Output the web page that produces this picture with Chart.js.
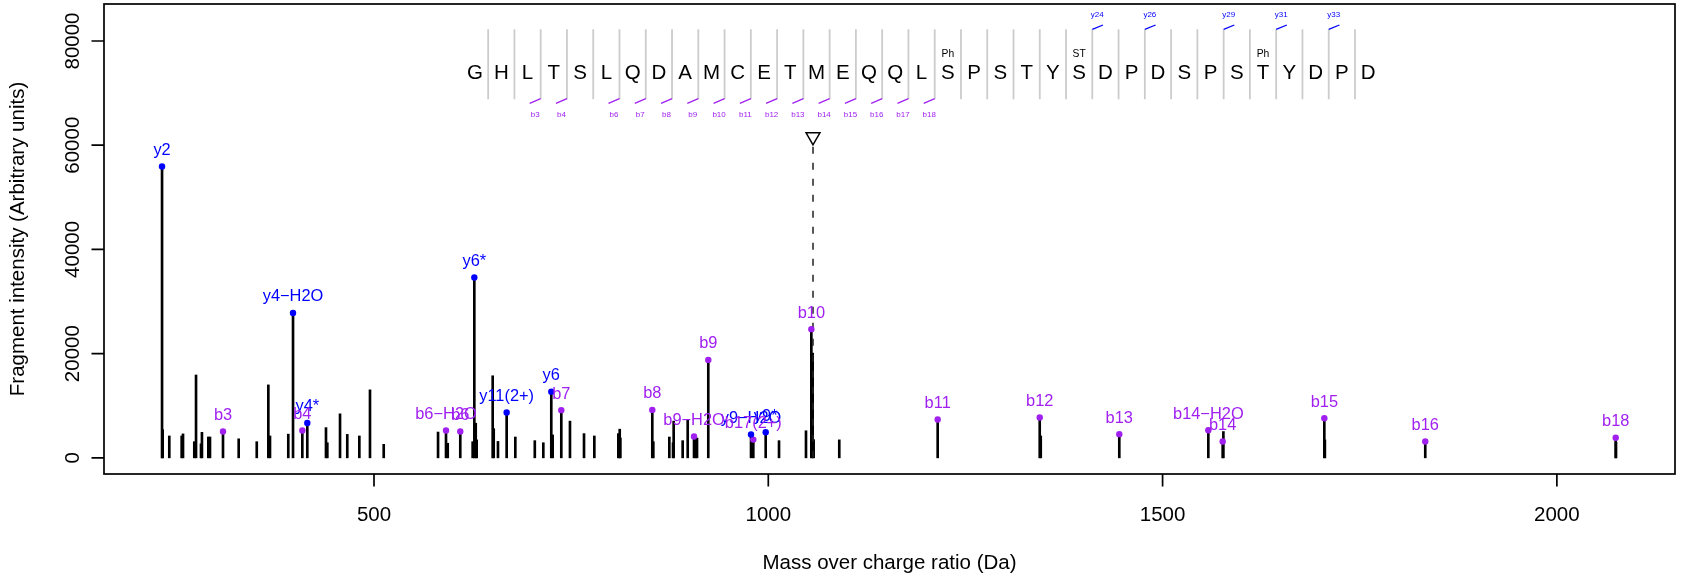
<!DOCTYPE html>
<html>
<head>
<meta charset="utf-8">
<script src="https://cdn.jsdelivr.net/npm/chart.js@4.4.0/dist/chart.umd.min.js"></script>
<style>
  html, body { margin: 0; padding: 0; background: #fff; }
  #wrap { width: 1685px; height: 582px; position: relative; }
</style>
</head>
<body>
<div id="wrap"><canvas id="spectrum"></canvas></div>
<script>
// every observed fragment peak (black sticks)
const peakMz = [231.2, 232.0, 240.4, 256.1, 257.8, 272.1, 274.3, 280.6, 281.8, 289.9, 292.0,
  308.5, 328.4, 351.3, 366.0, 368.1, 391.3, 397.3, 409.1, 415.4, 439.1, 440.8, 456.9, 466.1,
  481.4, 494.9, 512.3, 581.2, 591.3, 593.5, 609.4, 625.1, 627.2, 629.0, 630.2, 650.5, 651.8,
  657.2, 668.2, 679.2, 703.9, 714.7, 724.8, 726.6, 737.5, 748.5, 766.3, 779.4, 809.8, 811.6,
  812.4, 852.9, 854.2, 874.5, 879.2, 880.0, 891.4, 897.8, 905.8, 907.9, 909.6, 923.9, 978.1,
  981.0, 996.7, 1013.6, 1047.8, 1054.6, 1056.3, 1057.5, 1090.0, 1214.8, 1344.2, 1345.5,
  1445.1, 1558.0, 1576.2, 1577.1, 1705.1, 1705.8, 1833.1, 2074.6, 2075.0];
const peakIntensity = [55900, 5400, 4200, 4200, 4600, 3100, 15900, 2700, 4900, 4000, 4000,
  5050, 3650, 3100, 14000, 4200, 4550, 27800, 5250, 6700, 5800, 2900, 8450, 4500,
  4200, 13050, 2600, 4950, 5250, 2800, 5050, 3100, 34600, 6650, 3450, 15750, 5600,
  3150, 8700, 4000, 3300, 2900, 12700, 4400, 9150, 7050, 4650, 4200, 4650, 5500,
  3800, 9200, 3100, 4000, 2900, 7050, 3300, 7300, 4100, 3800, 3800, 18800, 4500,
  3500, 4900, 3300, 5200, 24700, 20100, 3500, 3450, 7350, 7750, 4200,
  4550, 5300, 3150, 5050, 7600, 3450, 3150, 3850, 3000];

// matched y ions (blue)
const yIonMz = [231.2, 397.3, 415.4, 627.2, 668.2, 724.8, 978.1, 996.7];
const yIonIntensity = [55900, 27800, 6700, 34600, 8700, 12700, 4500, 4900];
const yIonLabels = ['y2', 'y4\u2212H2O', 'y4*', 'y6*', 'y11(2+)', 'y6', 'y9\u2212H2O', 'y9*'];

// matched b ions (purple)
const bIonMz = [308.5, 409.1, 591.3, 609.4, 737.5, 852.9, 905.8, 923.9, 981.0, 1054.6,
  1214.8, 1344.2, 1445.1, 1558.0, 1576.2, 1705.1, 1833.1, 2074.6];
const bIonIntensity = [5050, 5250, 5250, 5050, 9150, 9200, 4100, 18800, 3500, 24700,
  7350, 7750, 4550, 5300, 3150, 7600, 3150, 3850];
const bIonLabels = ['b3', 'b4', 'b6\u2212H2O', 'b6', 'b7', 'b8', 'b9\u2212H2O', 'b9', 'b17(2+)', 'b10',
  'b11', 'b12', 'b13', 'b14\u2212H2O', 'b14', 'b15', 'b16', 'b18'];

// precursor marker
const precursorMz = 1056.7;
const precursorMark = 61600;
const precursorLineTop = 60000;

const xTicks = [500, 1000, 1500, 2000];
const yTicks = [0, 20000, 40000, 60000, 80000];

// peptide annotation
const sequence = ['G', 'H', 'L', 'T', 'S', 'L', 'Q', 'D', 'A', 'M', 'C', 'E', 'T', 'M', 'E', 'Q', 'Q', 'L',
  'S', 'P', 'S', 'T', 'Y', 'S', 'D', 'P', 'D', 'S', 'P', 'S', 'T', 'Y', 'D', 'P', 'D'];
const modPositions = [19, 24, 31];
const modLabels = ['Ph', 'ST', 'Ph'];
const bCuts = [3, 4, 6, 7, 8, 9, 10, 11, 12, 13, 14, 15, 16, 17, 18];
const yCuts = [24, 26, 29, 31, 33];

const FONT = '"Liberation Sans", Arial, Helvetica, sans-serif';
const BLUE = '#0000ff';
const PURPLE = '#a020f0';
const seqFirstMz = 628.1;
const seqStepMz = 33.31;

const toXY = (xs, ys) => xs.map((v, i) => ({ x: v, y: ys[i] }));

// R-like box, ticks and axis titles
const axesPlugin = {
  id: 'rAxes',
  beforeDatasetsDraw(chart) {
    const { ctx, chartArea: a, scales: { x, y } } = chart;
    ctx.save();
    ctx.strokeStyle = '#000';
    ctx.lineWidth = 1.7;
    ctx.strokeRect(a.left, a.top, a.right - a.left, a.bottom - a.top);
    ctx.beginPath();
    xTicks.forEach(v => {
      const px = x.getPixelForValue(v);
      ctx.moveTo(px, a.bottom);
      ctx.lineTo(px, a.bottom + 12.5);
    });
    yTicks.forEach(v => {
      const py = y.getPixelForValue(v);
      ctx.moveTo(a.left, py);
      ctx.lineTo(a.left - 12.5, py);
    });
    ctx.stroke();

    ctx.fillStyle = '#000';
    ctx.font = '20.5px ' + FONT;
    ctx.textAlign = 'center';
    ctx.textBaseline = 'alphabetic';
    xTicks.forEach(v => ctx.fillText(String(v), x.getPixelForValue(v), a.bottom + 46.5));
    yTicks.forEach(v => {
      ctx.save();
      ctx.translate(a.left - 25, y.getPixelForValue(v));
      ctx.rotate(-Math.PI / 2);
      ctx.fillText(String(v), 0, 0);
      ctx.restore();
    });
    ctx.fillText('Mass over charge ratio (Da)', (a.left + a.right) / 2, a.bottom + 94.5);
    ctx.save();
    ctx.translate(23.5, (a.top + a.bottom) / 2);
    ctx.rotate(-Math.PI / 2);
    ctx.fillText('Fragment intensity (Arbitrary units)', 0, 0);
    ctx.restore();
    ctx.restore();
  }
};

// ion labels above the dots
const ionLabelPlugin = {
  id: 'ionLabels',
  afterDatasetsDraw(chart) {
    const { ctx } = chart;
    ctx.save();
    ctx.font = '16.4px ' + FONT;
    ctx.textAlign = 'center';
    ctx.textBaseline = 'alphabetic';
    chart.data.datasets.forEach((ds, i) => {
      if (!ds.ionLabels) return;
      ctx.fillStyle = ds.backgroundColor;
      chart.getDatasetMeta(i).data.forEach((pt, j) => {
        ctx.fillText(ds.ionLabels[j], pt.x, pt.y - 11.5);
      });
    });
    ctx.restore();
  }
};

// peptide sequence with fragment ladder
const sequencePlugin = {
  id: 'sequence',
  afterDatasetsDraw(chart) {
    const { ctx, chartArea: a, scales: { x } } = chart;
    const cx = i => x.getPixelForValue(seqFirstMz + i * seqStepMz);
    const top = a.top;
    ctx.save();
    ctx.strokeStyle = '#cccccc';
    ctx.lineWidth = 1.8;
    ctx.beginPath();
    for (let k = 1; k < sequence.length; k++) {
      const bx = cx(k - 0.5);
      ctx.moveTo(bx, top + 25.3);
      ctx.lineTo(bx, top + 95.3);
    }
    ctx.stroke();

    ctx.fillStyle = '#000';
    ctx.textAlign = 'center';
    ctx.textBaseline = 'alphabetic';
    ctx.font = '20.5px ' + FONT;
    sequence.forEach((aa, i) => ctx.fillText(aa, cx(i), top + 75.3));
    ctx.font = '10.3px ' + FONT;
    modPositions.forEach((p, j) => ctx.fillText(modLabels[j], cx(p - 1), top + 53));

    ctx.lineWidth = 1.3;
    ctx.font = '8px ' + FONT;
    ctx.strokeStyle = PURPLE;
    ctx.fillStyle = PURPLE;
    bCuts.forEach(n => {
      const bx = cx(n - 0.5);
      ctx.beginPath();
      ctx.moveTo(bx - 11, top + 99.3);
      ctx.lineTo(bx, top + 94.7);
      ctx.stroke();
      ctx.fillText('b' + n, bx - 5.5, top + 112.5);
    });
    ctx.strokeStyle = BLUE;
    ctx.fillStyle = BLUE;
    yCuts.forEach(n => {
      const bx = cx(n - 0.5);
      ctx.beginPath();
      ctx.moveTo(bx, top + 25.3);
      ctx.lineTo(bx + 10.7, top + 21);
      ctx.stroke();
      ctx.fillText('y' + n, bx + 5, top + 13);
    });
    ctx.restore();
  }
};

new Chart(document.getElementById('spectrum').getContext('2d'), {
  type: 'bar',
  data: {
    datasets: [
      {
        type: 'scatter',
        data: toXY(yIonMz, yIonIntensity),
        ionLabels: yIonLabels,
        backgroundColor: BLUE,
        borderWidth: 0,
        pointRadius: 3.2,
        pointHoverRadius: 3.2,
        order: 1
      },
      {
        type: 'scatter',
        data: toXY(bIonMz, bIonIntensity),
        ionLabels: bIonLabels,
        backgroundColor: PURPLE,
        borderWidth: 0,
        pointRadius: 3.2,
        pointHoverRadius: 3.2,
        order: 1
      },
      {
        type: 'scatter',
        data: [{ x: precursorMz, y: precursorMark }],
        pointStyle: 'triangle',
        rotation: 180,
        pointRadius: 8,
        backgroundColor: '#fff',
        borderColor: '#000',
        borderWidth: 1.5,
        order: 1
      },
      {
        type: 'line',
        data: [{ x: precursorMz, y: 0 }, { x: precursorMz, y: precursorLineTop }],
        borderColor: '#222',
        borderWidth: 1.5,
        borderDash: [7, 9],
        pointRadius: 0,
        fill: false,
        order: 2
      },
      {
        type: 'bar',
        data: toXY(peakMz, peakIntensity),
        backgroundColor: '#000',
        borderWidth: 0,
        barThickness: 2,
        grouped: false,
        order: 3
      }
    ]
  },
  options: {
    responsive: true,
    maintainAspectRatio: false,
    animation: false,
    events: [],
    layout: { autoPadding: false, padding: { left: 104, right: 10, top: 4, bottom: 108 } },
    plugins: {
      legend: { display: false },
      tooltip: { enabled: false }
    },
    scales: {
      x: { type: 'linear', min: 157.6, max: 2149.8, offset: false, display: false },
      y: { type: 'linear', min: -3100, max: 87100, display: false }
    }
  },
  plugins: [axesPlugin, ionLabelPlugin, sequencePlugin]
});
</script>
</body>
</html>
